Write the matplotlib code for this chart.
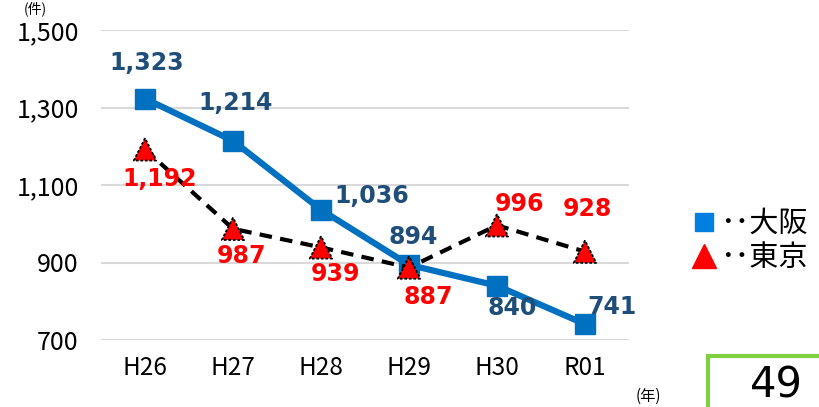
import matplotlib
matplotlib.use("Agg")
import matplotlib.pyplot as plt
from matplotlib.lines import Line2D
from matplotlib.patches import Rectangle

# data
years = ["H26", "H27", "H28", "H29", "H30", "R01"]
osaka = [1323, 1214, 1036, 894, 840, 741]
tokyo = [1192, 987, 939, 887, 996, 928]
yticks = [700, 900, 1100, 1300, 1500]

# label offsets in pixels (styling only)
osaka_off = [(2, 36), (3, 38), (51, 14), (4, 28), (15, -22), (27, 17)]
tokyo_off = [(15, -30), (9, -27), (15, -27), (19, -29), (23, 21), (2, 43)]

JP = ["Noto Sans CJK JP", "DejaVu Sans"]
W, H = 819, 407

fig = plt.figure(figsize=(W / 100, H / 100), dpi=100)
ax = fig.add_axes([101 / W, (H - 340) / H, (629 - 101) / W, (340 - 30) / H])

x = list(range(len(years)))
ax.plot(x, osaka, color="#0070C0", lw=4.5, marker="s", ms=14,
        markerfacecolor="#0070C0", markeredgecolor="#0070C0", zorder=3)
ax.plot(x, tokyo, color="black", lw=3, ls=(0, (3, 2)), zorder=4)
# red triangles with dotted black edge
ax.scatter(x, tokyo, marker="^", s=260, facecolor="#FF0000",
           edgecolor="black", linewidths=1.3, linestyle=(0, (1.5, 1)), zorder=6)

for i, v in enumerate(osaka):
    ax.annotate(f"{v:,}", (i, v), xytext=osaka_off[i], textcoords="offset pixels",
                ha="center", va="center", fontsize=17, fontweight="bold",
                color="#1F4E79", zorder=7)
for i, v in enumerate(tokyo):
    ax.annotate(f"{v:,}", (i, v), xytext=tokyo_off[i], textcoords="offset pixels",
                ha="center", va="center", fontsize=17, fontweight="bold",
                color="#FF0000", zorder=7)

ax.set_xlim(-0.5, len(years) - 0.5)
ax.set_ylim(700, 1500)
ax.set_xticks(x)
ax.set_xticklabels(years, fontsize=17.5, family=JP)
ax.set_yticks(yticks)
ax.set_yticklabels([f"{t:,}" for t in yticks], fontsize=18, family=JP)
ax.tick_params(length=0, pad=11)
ax.tick_params(axis="y", pad=16)
ax.grid(axis="y", color="#D9D9D9", lw=1.5)
ax.set_axisbelow(True)
for s in ax.spines.values():
    s.set_visible(False)

# legend
handles = [
    Line2D([], [], ls="none", marker="s", ms=13, color="#0080E0"),
    Line2D([], [], ls="none", marker="^", ms=17, color="#FF0000"),
]
fig.legend(handles, ["･･大阪", "･･東京"], loc="center left",
           bbox_to_anchor=(682 / W, 1 - 241 / H), frameon=False,
           prop={"family": JP, "size": 21}, handlelength=0.7,
           handletextpad=0.2, labelspacing=0.15, borderaxespad=0)

fig.text(35 / W, 1 - 1 / H, "(件)", family=JP, fontsize=10, ha="center", va="top")
fig.text(648 / W, 1 - 396 / H, "(年)", family=JP, fontsize=11, ha="center", va="center")

fig.patches.append(Rectangle((708 / W, -0.1), 0.3, (H - 356) / H + 0.1,
                             transform=fig.transFigure, fill=False,
                             edgecolor="#7ED040", lw=3))
fig.text(776 / W, 1 / H, "49", fontsize=30, ha="center", va="bottom")

fig.savefig("out.png", dpi=100, facecolor="white")
